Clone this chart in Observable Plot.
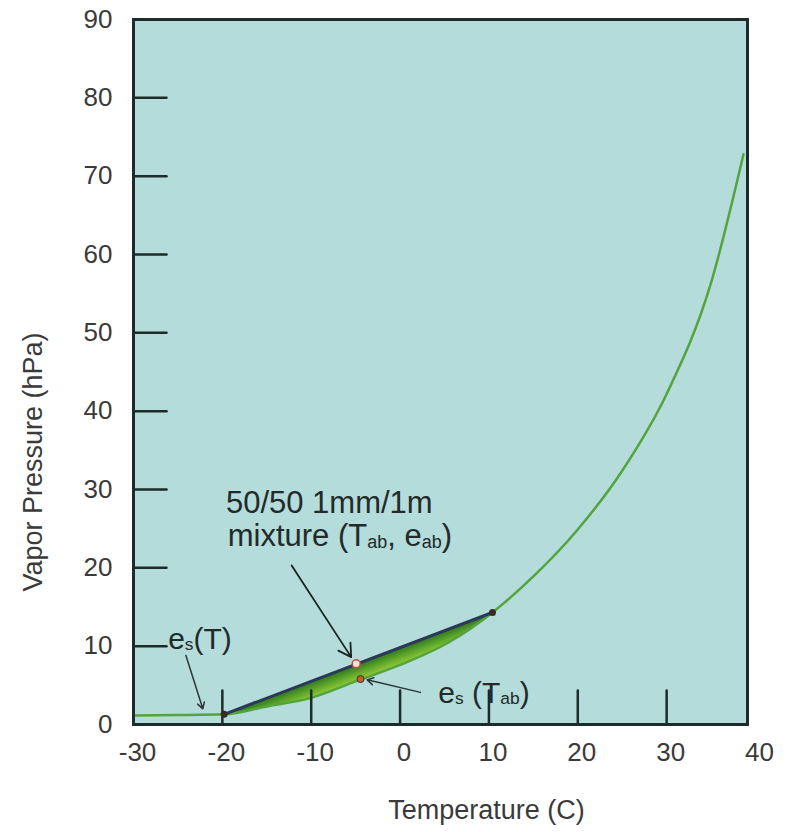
<!DOCTYPE html>
<html>
<head>
<meta charset="utf-8">
<script src="https://cdn.jsdelivr.net/npm/d3@7"></script>
<script src="https://cdn.jsdelivr.net/npm/@observablehq/plot@0.6"></script>
<style>
  html, body { margin: 0; padding: 0; background: #ffffff; }
  #chart svg { display: block; }
</style>
</head>
<body>
<div id="chart"></div>
<script>
// ---- data ----
const temps    = [-30, -25, -19.8, -15, -10, -5, 0, 5.5, 10.4, 15, 20, 25, 30, 35, 38.65];
const esValues = [1.15, 1.2, 1.3, 2.3, 3.4, 5.5, 7.6, 10.5, 14.3, 18.9, 24.9, 32.4, 42.2, 56.4, 72.8];

// 50/50 mixing line end points (T, e)
const mixLineT = [-19.8, 10.4];
const mixLineE = [1.3, 14.3];

// marked points
const mixPointT = [-4.94], mixPointE = [7.75];      // (Tab, eab)
const esTabT = [-4.45], esTabE = [5.8];              // es(Tab)
const endPointT = [-19.8, 10.4], endPointE = [1.3, 14.3];

// axis ticks
const xTickLabels = [-30, -20, -10, 0, 10, 20, 30, 40];
const xInsideTicks = [-20, -10, 0, 10, 20, 30];
const yTickLabels = [0, 10, 20, 30, 40, 50, 60, 70, 80, 90];
const yInsideTicks = [10, 20, 30, 40, 50, 60, 70, 80];

// annotations
const noteTexts = ["50/50 1mm/1m", "mixture (T{ab}, e{ab})"];
const noteX = [-19.6, -19.4];
const noteY = [27.0, 22.8];
const esLabelTexts = ["e{s}(T)", "e{s} (T{ab})"];
const esLabelX = [-26.1, 4.3];
const esLabelY = [9.7, 2.8];

const arrowX1 = [-12.2, -24.1, 2.3];
const arrowY1 = [20.3, 8.8, 4.1];
const arrowX2 = [-5.5, -22.2, -3.7];
const arrowY2 = [8.6, 2.0, 5.7];

// ---- chart ----
const lensIdx = d3.range(2, 9);
const tickShape = { draw(context, l) { context.moveTo(0, 0); context.lineTo(0, -l); } };
const textColor = "#3a3a3a";
const frameColor = "#1d2b2b";

const chart = Plot.plot({
  width: 786,
  height: 832,
  marginLeft: 133,
  marginRight: 39,
  marginTop: 19,
  marginBottom: 108,
  style: { fontFamily: "'Liberation Sans', Arial, sans-serif", background: "#ffffff", color: textColor },
  x: { domain: [-30, 39.1], axis: null },
  y: { domain: [0, 90], axis: null },
  marks: [
    Plot.frame({ fill: "#b3dcda", stroke: null }),
    // lens between the saturation curve and the mixing line
    Plot.line(lensIdx, {
      x: i => temps[i], y: i => esValues[i], curve: "monotone-x",
      fill: "url(#lensGrad)", stroke: "none"
    }),
    // saturation curve
    Plot.line(temps, { x: temps, y: esValues, curve: "monotone-x", stroke: "#54a43e", strokeWidth: 2.5 }),
    // mixing line
    Plot.line(mixLineT, { x: mixLineT, y: mixLineE, stroke: "#2b3858", strokeWidth: 3 }),
    // inside ticks
    Plot.vector(xInsideTicks, { x: d => d, frameAnchor: "bottom", length: 34, rotate: 0, anchor: "start", shape: tickShape, stroke: frameColor, strokeWidth: 2.5 }),
    Plot.vector(yInsideTicks, { y: d => d, frameAnchor: "left", length: 33, rotate: 90, anchor: "start", shape: tickShape, stroke: frameColor, strokeWidth: 2.5 }),
    // tick labels
    Plot.text(xTickLabels, { x: d => d, frameAnchor: "bottom", dy: 36, dx: 4, text: d => String(d), fontSize: 26, fill: textColor }),
    Plot.text(yTickLabels, { y: d => d, frameAnchor: "left", dx: -21, textAnchor: "end", text: d => String(d), fontSize: 26, fill: textColor }),
    // axis titles
    Plot.text(["Temperature (C)"], { frameAnchor: "bottom", dy: 94, dx: 46, textAnchor: "middle", fontSize: 27, fill: textColor }),
    Plot.text(["Vapor Pressure (hPa)"], { frameAnchor: "left", dx: -100, dy: 90, rotate: -90, textAnchor: "middle", fontSize: 27, fill: textColor }),
    // arrows
    Plot.arrow([0], { x1: i => arrowX1[i], y1: i => arrowY1[i], x2: i => arrowX2[i], y2: i => arrowY2[i], stroke: "#1a2222", strokeWidth: 1.8, headLength: 12 }),
    Plot.arrow([1, 2], { x1: i => arrowX1[i], y1: i => arrowY1[i], x2: i => arrowX2[i], y2: i => arrowY2[i], stroke: "#2a3838", strokeWidth: 1.5, headLength: 7 }),
    // points
    Plot.dot(endPointT, { x: endPointT, y: endPointE, r: 3.5, fill: "#3a2a22", stroke: "none" }),
    Plot.dot(mixPointT, { x: mixPointT, y: mixPointE, r: 4, fill: "#f6e2dc", stroke: "#c84a3a", strokeWidth: 1.5 }),
    Plot.dot(esTabT, { x: esTabT, y: esTabE, r: 3.5, fill: "#c0602a", stroke: "#4a2a1a", strokeWidth: 1 }),
    // annotations
    Plot.text(noteTexts, { x: noteX, y: noteY, text: noteTexts, textAnchor: "start", lineAnchor: "bottom", fontSize: 31, fill: "#222a2a" }),
    Plot.text(esLabelTexts, { x: esLabelX, y: esLabelY, text: esLabelTexts, textAnchor: "start", lineAnchor: "bottom", fontSize: 30, fill: "#222a2a" }),
    // frame
    Plot.frame({ stroke: frameColor, strokeWidth: 3 })
  ]
});

document.getElementById("chart").appendChild(chart);

// gradient for the lens
const svg = d3.select(chart);
const defs = svg.insert("defs", ":first-child");
const grad = defs.append("linearGradient")
  .attr("id", "lensGrad")
  .attr("x1", 0.5).attr("y1", 0.5)
  .attr("x2", 0.6).attr("y2", 0.6);
grad.append("stop").attr("offset", 0).attr("stop-color", "#2e7422");
grad.append("stop").attr("offset", 0.45).attr("stop-color", "#5fa82a");
grad.append("stop").attr("offset", 1).attr("stop-color", "#a8d63c");

// subscripts: text{sub}
svg.selectAll("text").each(function () {
  const s = this.textContent;
  if (!s.includes("{")) return;
  const fs = parseFloat(getComputedStyle(this).fontSize) || 30;
  this.textContent = "";
  const parts = s.split(/(\{[^}]*\})/).filter(p => p.length);
  let shifted = 0;
  for (const p of parts) {
    const sub = p.startsWith("{");
    const t = d3.select(this).append("tspan").text(sub ? p.slice(1, -1) : p);
    const target = sub ? fs * 0.06 : 0;
    if (target !== shifted) { t.attr("dy", target - shifted); shifted = target; }
    if (sub) t.attr("font-size", fs * 0.58);
  }
});
</script>
</body>
</html>
